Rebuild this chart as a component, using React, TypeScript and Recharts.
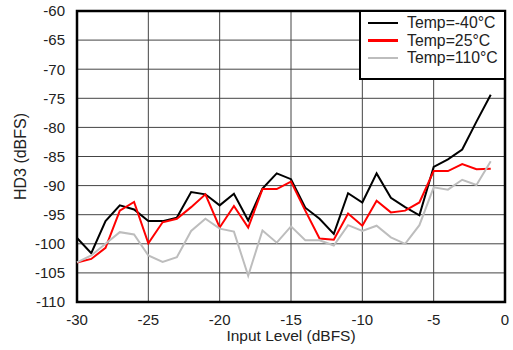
import React from "react";
import { LineChart, Line, XAxis, YAxis, CartesianGrid, ReferenceArea, Label } from "recharts";

const inputLevel = [-30,-29,-28,-27,-26,-25,-24,-23,-22,-21,-20,-19,-18,-17,-16,-15,-14,-13,-12,-11,-10,-9,-8,-7,-6,-5,-4,-3,-2,-1];
const tempM40 = [-99.0,-101.6,-96.1,-93.4,-94.1,-96.1,-96.1,-95.5,-91.1,-91.5,-93.4,-91.4,-96.0,-90.5,-87.9,-88.9,-93.8,-95.7,-98.3,-91.3,-92.9,-87.9,-92.1,-93.7,-95.1,-86.8,-85.5,-83.8,-79.0,-74.4];
const temp25 = [-103.2,-102.6,-100.7,-94.3,-92.8,-99.9,-96.3,-95.7,-93.7,-91.5,-97.2,-93.5,-97.2,-90.6,-90.6,-89.3,-94.3,-99.1,-99.3,-94.8,-96.9,-92.6,-94.6,-94.3,-92.9,-87.5,-87.5,-86.3,-87.2,-87.1];
const temp110 = [-103.2,-102.0,-100.0,-98.0,-98.4,-102.0,-103.1,-102.3,-97.8,-95.7,-97.4,-97.9,-105.5,-97.7,-99.8,-97.0,-99.4,-99.4,-100.3,-96.8,-97.8,-96.9,-98.9,-100.0,-96.8,-90.3,-90.7,-89.0,-89.9,-85.8];
const xTicks = [-30,-25,-20,-15,-10,-5,0];
const yTicks = [-110,-105,-100,-95,-90,-85,-80,-75,-70,-65,-60];

const series = [
  { key: "m40", name: "Temp=-40°C", color: "#000000", values: tempM40 },
  { key: "p25", name: "Temp=25°C", color: "#ff0000", values: temp25 },
  { key: "p110", name: "Temp=110°C", color: "#bdbdbd", values: temp110 },
];

const data = inputLevel.map((x, i) => ({ x, m40: tempM40[i], p25: temp25[i], p110: temp110[i] }));

const FONT = "'Liberation Sans', Arial, Helvetica, sans-serif";

const LegendBox = () => (
  <div style={{ position: "absolute", left: 359, top: 10, border: "2.5px solid #000", background: "#fff", boxSizing: "border-box", width: 147, height: 70, paddingTop: 2, fontFamily: FONT }}>
    {series.map((s) => (
      <div key={s.key} style={{ display: "flex", alignItems: "center", height: 17.5 }}>
        <div style={{ width: 30, height: 2.5, background: s.color, marginLeft: 7, marginRight: 9 }} />
        <span style={{ fontSize: 15.8, color: "#222", lineHeight: "17px" }}>{s.name}</span>
      </div>
    ))}
  </div>
);

export default function App() {
  return (
    <div style={{ position: "absolute", left: 0, top: 0, width: 513, height: 350, background: "#fff" }}>
      <LineChart width={513} height={350} data={data} margin={{ top: 11, right: 8, bottom: 0, left: 0 }} style={{ fontFamily: FONT }}>
        <CartesianGrid stroke="#444" strokeWidth={1} horizontalValues={yTicks} verticalValues={xTicks} />
        <XAxis dataKey="x" type="number" domain={[-30, 0]} ticks={xTicks} height={48} axisLine={false} tickLine={false}
          tick={{ fill: "#222", fontSize: 15, fontFamily: FONT }} tickMargin={6} interval={0}>
          <Label value="Input Level (dBFS)" position="insideBottom" offset={9} dx={0} style={{ fill: "#222", fontSize: 15.5, fontFamily: FONT }} />
        </XAxis>
        <YAxis type="number" domain={[-110, -60]} ticks={yTicks} width={77} axisLine={false} tickLine={false}
          tick={{ fill: "#222", fontSize: 15, fontFamily: FONT }} tickMargin={6} interval={0}>
          <Label value="HD3 (dBFS)" angle={-90} position="center" dx={-18} style={{ fill: "#222", fontSize: 16, fontFamily: FONT, textAnchor: "middle" }} />
        </YAxis>
        <ReferenceArea x1={-30} x2={0} y1={-110} y2={-60} fill="none" stroke="#000" strokeWidth={2.5} ifOverflow="visible" />
        {series.map((s) => (
          <Line key={s.key} type="linear" dataKey={s.key} name={s.name} stroke={s.color} strokeWidth={2} dot={false} isAnimationActive={false} />
        ))}
      </LineChart>
      <LegendBox />
    </div>
  );
}
